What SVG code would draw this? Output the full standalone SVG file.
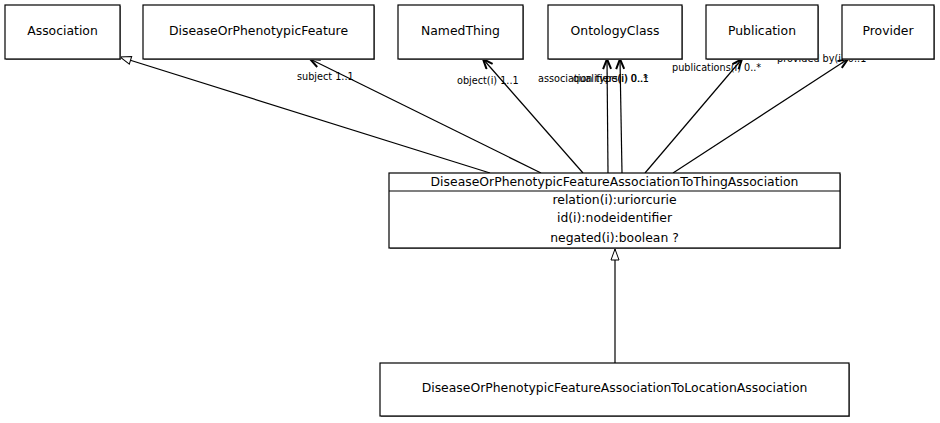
<svg xmlns="http://www.w3.org/2000/svg" width="940" height="423" viewBox="0 0 940 423">
<style>
.box{fill:#fff;stroke:#000;stroke-width:1.2}
.shadow{fill:#888}
.name{font-family:"DejaVu Sans",sans-serif;font-size:12.4px;text-anchor:middle;fill:#000}
.lbl{font-family:"DejaVu Sans",sans-serif;font-size:9.7px;fill:#000}
.edge{stroke:#000;stroke-width:1.2;fill:none}
</style>
<defs>
<marker id="open" viewBox="0 0 12 10" refX="11" refY="5" markerWidth="12" markerHeight="10" markerUnits="userSpaceOnUse" orient="auto">
<path d="M1,1 L11,5 L1,9" fill="none" stroke="#000" stroke-width="2"/>
</marker>
<marker id="tri" viewBox="0 0 13 10" refX="12" refY="5" markerWidth="13" markerHeight="10" markerUnits="userSpaceOnUse" orient="auto">
<path d="M1,1 L12,5 L1,9 Z" fill="#fff" stroke="#000" stroke-width="1"/>
</marker>
</defs>
<rect width="940" height="423" fill="#fff"/>
<g id="connectors">
<line class="edge" x1="490" y1="173" x2="120" y2="57" marker-end="url(#tri)"/>
<line class="edge" x1="541" y1="173" x2="310" y2="59" marker-end="url(#open)"/>
<line class="edge" x1="583" y1="173" x2="483" y2="59" marker-end="url(#open)"/>
<line class="edge" x1="608" y1="173" x2="607" y2="59" marker-end="url(#open)"/>
<line class="edge" x1="622" y1="173" x2="620" y2="59" marker-end="url(#open)"/>
<line class="edge" x1="645" y1="173" x2="742" y2="59" marker-end="url(#open)"/>
<line class="edge" x1="673" y1="173" x2="848" y2="59" marker-end="url(#open)"/>
<line class="edge" x1="615" y1="363" x2="615" y2="249" marker-end="url(#tri)"/>
<text class="lbl" x="297" y="80">subject 1..1</text>
<text class="lbl" x="457" y="84">object(i) 1..1</text>
<text class="lbl" x="538" y="82">association type(i) 0..1</text>
<text class="lbl" x="573" y="82">qualifiers(i) 0..*</text>
<text class="lbl" x="672" y="71">publications(i) 0..*</text>
<text class="lbl" x="777" y="62">provided by(i) 0..1</text>
</g>
<g id="Association">
<rect class="shadow" x="6" y="6" width="115" height="54"/>
<rect class="box" x="5" y="5" width="115" height="54"/>
<text class="name" x="62.5" y="35">Association</text>
</g>
<g id="DiseaseOrPhenotypicFeature">
<rect class="shadow" x="144" y="6" width="231" height="54"/>
<rect class="box" x="143" y="5" width="231" height="54"/>
<text class="name" x="258.5" y="35">DiseaseOrPhenotypicFeature</text>
</g>
<g id="NamedThing">
<rect class="shadow" x="399" y="6" width="125" height="54"/>
<rect class="box" x="398" y="5" width="125" height="54"/>
<text class="name" x="460.5" y="35">NamedThing</text>
</g>
<g id="OntologyClass">
<rect class="shadow" x="549" y="6" width="134" height="54"/>
<rect class="box" x="548" y="5" width="134" height="54"/>
<text class="name" x="615" y="35">OntologyClass</text>
</g>
<g id="Publication">
<rect class="shadow" x="707" y="6" width="112" height="54"/>
<rect class="box" x="706" y="5" width="112" height="54"/>
<text class="name" x="762" y="35">Publication</text>
</g>
<g id="Provider">
<rect class="shadow" x="843" y="6" width="92" height="54"/>
<rect class="box" x="842" y="5" width="92" height="54"/>
<text class="name" x="888" y="35">Provider</text>
</g>
<g id="DiseaseOrPhenotypicFeatureAssociationToThingAssociation">
<rect class="shadow" x="390" y="174" width="451" height="75"/>
<rect class="box" x="389" y="173" width="451" height="75"/>
<line class="edge" x1="389" y1="191" x2="840" y2="191"/>
<text class="name" x="614.5" y="186">DiseaseOrPhenotypicFeatureAssociationToThingAssociation</text>
<text class="name" x="614.5" y="204">relation(i):uriorcurie</text>
<text class="name" x="614.5" y="222">id(i):nodeidentifier</text>
<text class="name" x="614.5" y="242">negated(i):boolean ?</text>
</g>
<g id="DiseaseOrPhenotypicFeatureAssociationToLocationAssociation">
<rect class="shadow" x="381" y="364" width="469" height="53"/>
<rect class="box" x="380" y="363" width="469" height="53"/>
<text class="name" x="614.5" y="392">DiseaseOrPhenotypicFeatureAssociationToLocationAssociation</text>
</g>
</svg>
